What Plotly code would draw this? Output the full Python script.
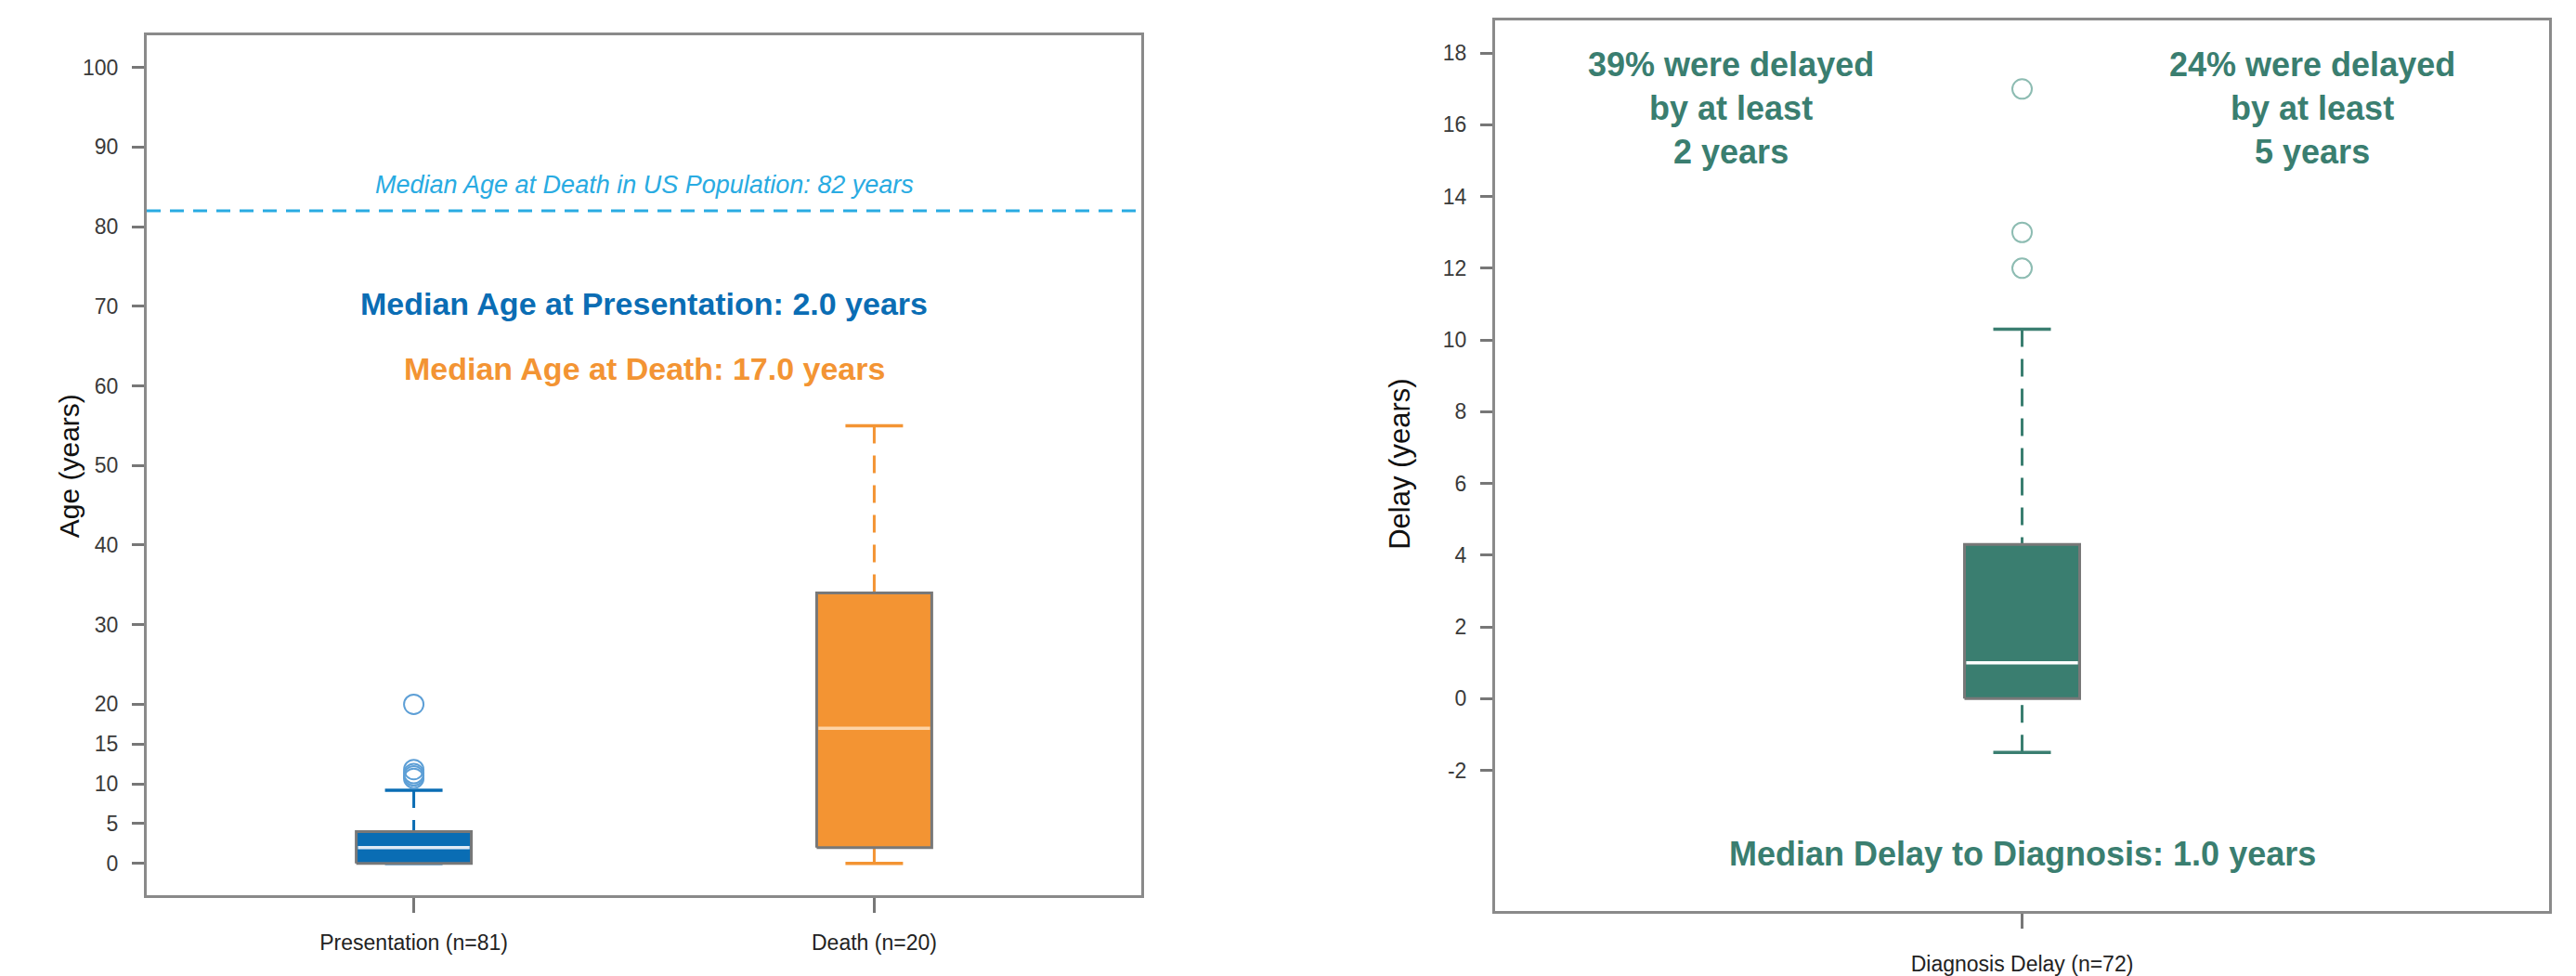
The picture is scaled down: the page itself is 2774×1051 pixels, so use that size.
import plotly.graph_objects as go

# ---- Age at presentation / death (left panel) ----
age_groups = ["Presentation (n=81)", "Death (n=20)"]
age_q1 = [0.0, 2.0]
age_median = [2.0, 17.0]
age_q3 = [4.0, 34.0]
age_whisker_low = [0.0, 0.0]
age_whisker_high = [9.2, 55.0]
age_outliers = [[10.7, 11.0, 11.3, 11.8, 20.0], []]
us_median_age_at_death = 82
age_ticks = [0, 5, 10, 15, 20, 30, 40, 50, 60, 70, 80, 90, 100]

# ---- Delay to diagnosis (right panel) ----
delay_groups = ["Diagnosis Delay (n=72)"]
delay_q1 = [0.0]
delay_median = [1.0]
delay_q3 = [4.3]
delay_whisker_low = [-1.5]
delay_whisker_high = [10.3]
delay_outliers = [[12.0, 13.0, 17.0]]
delay_ticks = [-2, 0, 2, 4, 6, 8, 10, 12, 14, 16, 18]
pct_delayed_2y = 39
pct_delayed_5y = 24

FONT = "Liberation Sans, Arial, Helvetica, sans-serif"
BLUE = "#0a6db4"
ORANGE = "#f39433"
TEAL = "#3a7e70"
SKY = "#29abe2"
BORDER = "#8a8a8a"

W, H = 2774, 1051


def px_domain(a, b, total):
    return [a / total, b / total]


fig = go.Figure()


def add_box(xc, q1, med, q3, lo, hi, outs, half, fill, median_color,
            outlier_color, xa, ya):
    dash = "19px,13px"
    # whiskers (drawn from the whisker end towards the box)
    fig.add_trace(go.Scatter(x=[xc, xc], y=[hi, q3], mode="lines",
                             line=dict(color=fill, width=3, dash=dash),
                             xaxis=xa, yaxis=ya, hoverinfo="skip"))
    fig.add_trace(go.Scatter(x=[xc, xc], y=[lo, q1], mode="lines",
                             line=dict(color=fill, width=3, dash=dash),
                             xaxis=xa, yaxis=ya, hoverinfo="skip"))
    # whisker caps
    for v in (lo, hi):
        fig.add_trace(go.Scatter(x=[xc - half / 2, xc + half / 2], y=[v, v],
                                 mode="lines", line=dict(color=fill, width=3.5),
                                 xaxis=xa, yaxis=ya, hoverinfo="skip"))
    # box body
    fig.add_trace(go.Scatter(x=[xc - half, xc + half, xc + half, xc - half, xc - half],
                             y=[q1, q1, q3, q3, q1], mode="lines", fill="toself",
                             fillcolor=fill, line=dict(color="#787878", width=3),
                             xaxis=xa, yaxis=ya, hoverinfo="skip"))
    # median
    fig.add_trace(go.Scatter(x=[xc - half * 0.97, xc + half * 0.97], y=[med, med],
                             mode="lines", line=dict(color=median_color, width=3.5),
                             xaxis=xa, yaxis=ya, hoverinfo="skip"))
    # outliers
    if outs:
        fig.add_trace(go.Scatter(x=[xc] * len(outs), y=outs, mode="markers",
                                 marker=dict(symbol="circle-open", size=21,
                                             color=outlier_color,
                                             line=dict(width=2, color=outlier_color)),
                                 xaxis=xa, yaxis=ya, hoverinfo="skip"))


# left panel boxes
age_fills = [BLUE, ORANGE]
age_median_colors = ["#dfeaf5", "#fdd3a6"]
age_outlier_colors = ["#5d9fd6", "#f6b26b"]
for i in range(len(age_groups)):
    add_box(i + 1, age_q1[i], age_median[i], age_q3[i], age_whisker_low[i],
            age_whisker_high[i], age_outliers[i], 0.125, age_fills[i],
            age_median_colors[i], age_outlier_colors[i], "x", "y")

# US population reference line
fig.add_trace(go.Scatter(x=[0.42, 2.58], y=[us_median_age_at_death] * 2, mode="lines",
                         line=dict(color=SKY, width=3, dash="15px,10px"),
                         xaxis="x", yaxis="y", hoverinfo="skip"))

# right panel box
for i in range(len(delay_groups)):
    add_box(i + 1, delay_q1[i], delay_median[i], delay_q3[i], delay_whisker_low[i],
            delay_whisker_high[i], delay_outliers[i], 0.059, TEAL,
            "#ffffff", "#8dbcb2", "x2", "y2")

axis_common = dict(showgrid=False, zeroline=False, showline=True, mirror=True,
                   linecolor=BORDER, linewidth=3, ticks="outside",
                   tickcolor="#777777", tickwidth=2.5, fixedrange=True)

fig.update_layout(
    width=W, height=H,
    margin=dict(l=0, r=0, t=0, b=0),
    paper_bgcolor="white", plot_bgcolor="white",
    showlegend=False,
    font=dict(family=FONT, color="#333333"),
    xaxis=dict(domain=px_domain(158, 1229, W), range=[0.42, 2.58],
               tickvals=[1, 2], ticktext=age_groups, ticklen=16,
               ticklabelstandoff=12,
               tickfont=dict(size=23, color="#222222"), anchor="y", **axis_common),
    yaxis=dict(domain=[1 - 980 / H, 1 - 39 / H], range=[-4, 104],
               tickvals=age_ticks, ticktext=[str(t) for t in age_ticks], ticklen=13,
               ticklabelstandoff=10,
               tickfont=dict(size=23, color="#3a3a3a"), anchor="x", **axis_common),
    xaxis2=dict(domain=px_domain(1610, 2745, W), range=[0.46, 1.54],
                tickvals=[1], ticktext=delay_groups, ticklen=16,
                ticklabelstandoff=19,
                tickfont=dict(size=23, color="#222222"), anchor="y2", **axis_common),
    yaxis2=dict(domain=[1 - 997 / H, 1 - 22 / H], range=[-5.92, 18.92],
                tickvals=delay_ticks, ticktext=[str(t) for t in delay_ticks], ticklen=13,
                ticklabelstandoff=10,
                tickfont=dict(size=23, color="#3a3a3a"), anchor="x2", **axis_common),
)

annotations = [
    # axis titles
    dict(text="Age (years)", xref="paper", yref="paper", x=56 / W, y=1 - 510 / H,
         textangle=-90, showarrow=False, font=dict(size=30, color="#111111")),
    dict(text="Delay (years)", xref="paper", yref="paper", x=1508 / W, y=1 - 508 / H,
         textangle=-90, showarrow=False, font=dict(size=31, color="#111111")),
    # left panel labels
    dict(text=f"<i>Median Age at Death in US Population: {us_median_age_at_death} years</i>",
         xref="x", yref="y", x=1.5, y=85.3, showarrow=False,
         font=dict(size=27, color=SKY)),
    dict(text=f"<b>Median Age at Presentation: {age_median[0]:.1f} years</b>",
         xref="x", yref="y", x=1.5, y=70.3, showarrow=False,
         font=dict(size=34, color=BLUE)),
    dict(text=f"<b>Median Age at Death: {age_median[1]:.1f} years</b>",
         xref="x", yref="y", x=1.5, y=62.2, showarrow=False,
         font=dict(size=34, color=ORANGE)),
    # right panel labels
    dict(text=f"<b>{pct_delayed_2y}% were delayed<br>by at least<br>2 years</b>",
         xref="x2", yref="y2", x=0.702, y=16.47, showarrow=False,
         font=dict(size=36, color=TEAL)),
    dict(text=f"<b>{pct_delayed_5y}% were delayed<br>by at least<br>5 years</b>",
         xref="x2", yref="y2", x=1.297, y=16.47, showarrow=False,
         font=dict(size=36, color=TEAL)),
    dict(text=f"<b>Median Delay to Diagnosis: {delay_median[0]:.1f} years</b>",
         xref="x2", yref="y2", x=1.0, y=-4.33, showarrow=False,
         font=dict(size=36, color=TEAL)),
]
fig.update_layout(annotations=annotations)

fig.write_html("out.html", config={"displayModeBar": False})
